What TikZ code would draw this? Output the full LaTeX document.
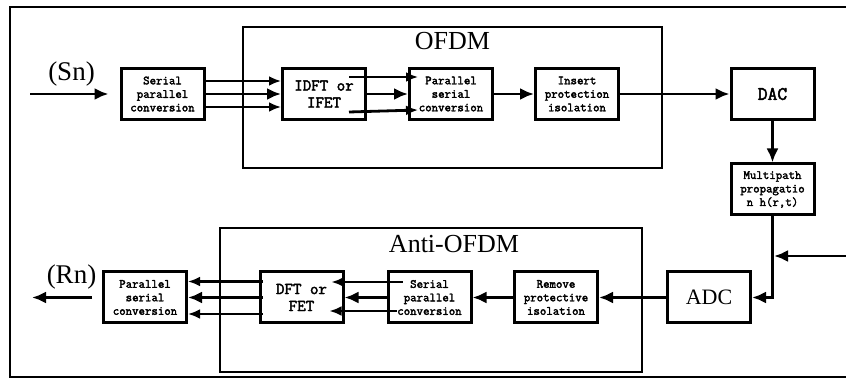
\documentclass[tikz,border=0pt]{standalone}
\usepackage{fontspec}
\setmainfont{Liberation Serif}
\setmonofont{Latin Modern Mono}[AutoFakeBold=2.5]
\usetikzlibrary{arrows.meta}

\begin{document}
\begin{tikzpicture}
      \tikzset{
        every node/.style={inner sep=0pt},
        block/.style={draw,line width=3pt,minimum width=83pt,minimum height=51pt,align=center,
          font=\ttfamily\bfseries\fontsize{12.5}{13.5}\selectfont},
        bigtxt/.style={font=\ttfamily\bfseries\fontsize{16.5}{17}\selectfont},
        frame/.style={draw,line width=2.6pt},
        title/.style={font=\fontsize{26}{26}\selectfont},
        arr/.style={line width=2.8pt,-{Latex[length=14pt,width=12pt]}},
        sarr/.style={line width=2.8pt,-{Latex[length=12pt,width=10pt]}}
      }
      \useasboundingbox (0pt,0pt) rectangle (846pt,-379pt);

      % outer frame, open on the right
      \draw[line width=2.6pt] (846pt,-7pt) -- (10pt,-7pt) -- (10pt,-377pt) -- (846pt,-377pt);

      % OFDM and Anti-OFDM groups
      \node[frame,minimum width=419pt,minimum height=141pt] (ofdm) at (452.5pt,-97.5pt) {};
      \node[title,anchor=north] (ofdmtxt) at ([yshift=-6pt]ofdm.north) {OFDM};
      \node[frame,minimum width=422pt,minimum height=144pt] (anti) at (431pt,-300pt) {};
      \node[title,anchor=north] (antitxt) at ([xshift=23pt,yshift=-8pt]anti.north) {Anti-OFDM};

      % transmitter
      \node[block] (sp1) at (162.5pt,-94pt) {Serial\\parallel\\conversion};
      \node[block,bigtxt,right of=sp1,node distance=161.5pt] (idft) {IDFT or\\IFET};
      \node[block,right of=idft,node distance=127pt] (ps1) {Parallel\\serial\\conversion};
      \node[block,right of=ps1,node distance=126pt] (ins) {Insert\\protection\\isolation};
      \node[block,right of=ins,node distance=195.5pt,font=\ttfamily\bfseries\fontsize{19}{19}\selectfont] (dac) {DAC};
      \node[block,below of=dac,node distance=95.5pt] (mp) {Multipath\\propagatio\\n h(r,t)};

      % receiver
      \node[block,font=\fontsize{22}{22}\selectfont] (adc) at (709pt,-297.5pt) {ADC};
      \node[block,left of=adc,node distance=153pt] (rem) {Remove\\protective\\isolation};
      \node[block,left of=rem,node distance=126.5pt] (sp2) {Serial\\parallel\\conversion};
      \node[block,bigtxt,left of=sp2,node distance=128pt] (dft) {DFT or\\FET};
      \node[block,left of=dft,node distance=156.5pt] (ps2) {Parallel\\serial\\conversion};

      \coordinate (sn) at (30pt,-94pt);
      \coordinate (rn) at (32pt,-297.5pt);
      \coordinate (rin) at (846pt,-256pt);
      \node[font=\fontsize{27}{27}\selectfont] (sntxt) at (71.5pt,-74pt) {(Sn)};
      \node[font=\fontsize{27}{27}\selectfont] (rntxt) at (71.5pt,-277pt) {(Rn)};

      \draw[arr,shorten >=11pt] (sn) -- (sp1);
      \draw[sarr] ([yshift=13pt]sp1.east) -- ([yshift=13pt]idft.west);
      \draw[arr] (sp1.east) -- (idft.west);
      \draw[sarr] ([yshift=-13pt]sp1.east) -- ([yshift=-13pt]idft.west);
      \draw[sarr] ([xshift=-18pt,yshift=17pt]idft.east) -- ([xshift=10pt,yshift=17pt]ps1.west);
      \draw[arr] (idft.east) -- (ps1.west);
      \draw[sarr] ([xshift=-18pt,yshift=-18pt]idft.east) -- ([xshift=10pt,yshift=-16pt]ps1.west);
      \draw[arr] (ps1) -- (ins);
      \draw[arr] (ins) -- (dac);
      \draw[arr] (dac) -- (mp);
      \draw[arr] (mp.south) |- (adc.east);
      \draw[arr,shorten >=1.5pt] (rin) -- (rin -| mp.south);

      \draw[arr] (adc) -- (rem);
      \draw[arr] (rem) -- (sp2);
      \draw[sarr] ([xshift=16pt,yshift=15.5pt]sp2.west) -- ([xshift=-13pt,yshift=15.5pt]dft.east);
      \draw[arr] (sp2.west) -- (dft.east);
      \draw[sarr] ([xshift=10pt,yshift=-13.5pt]sp2.west) -- ([xshift=-15pt,yshift=-13.5pt]dft.east);
      \draw[sarr] ([xshift=4pt,yshift=16pt]dft.west) -- ([yshift=16pt]ps2.east);
      \draw[arr] ([xshift=4pt]dft.west) -- (ps2.east);
      \draw[sarr] ([xshift=4pt,yshift=-16.5pt]dft.west) -- ([yshift=-16.5pt]ps2.east);
      \draw[arr,shorten <=10pt] (ps2) -- (rn);
\end{tikzpicture}
\end{document}
